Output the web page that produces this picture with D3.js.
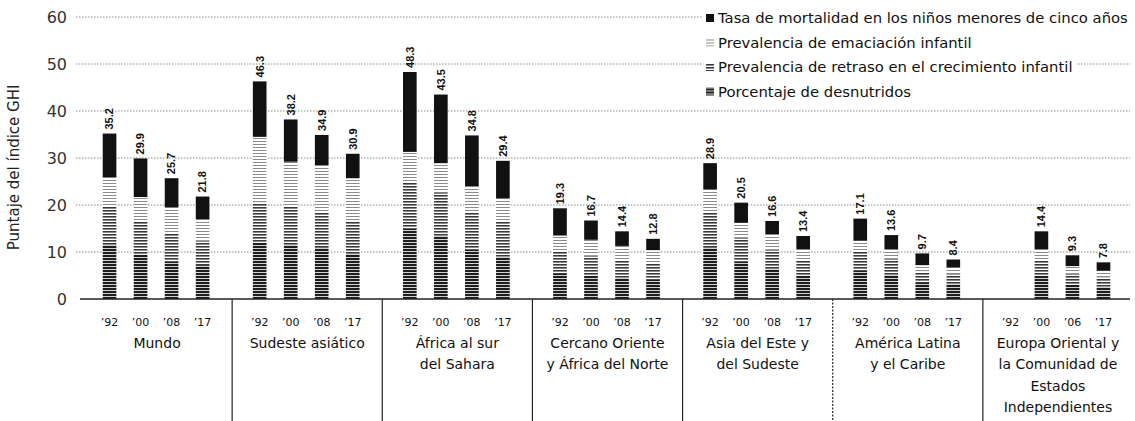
<!DOCTYPE html>
<html>
<head>
<meta charset="utf-8">
<script src="https://cdn.jsdelivr.net/npm/d3@7"></script>
<style>
  html, body { margin: 0; padding: 0; background: #fff; }
  svg { display: block; font-family: "DejaVu Sans", "Liberation Sans", sans-serif; }
</style>
</head>
<body>
<svg id="chart"></svg>
<script>
// regions (group labels split in lines) and survey years
const regions = [
    ['Mundo'],
    ['Sudeste asiático'],
    ['África al sur', 'del Sahara'],
    ['Cercano Oriente', 'y África del Norte'],
    ['Asia del Este y', 'del Sudeste'],
    ['América Latina', 'y el Caribe'],
    ['Europa Oriental y', 'la Comunidad de', 'Estados', 'Independientes']
];
const years = ['\u201992', '\u201900', '\u201908', '\u201917'];
const yearsEuropa = ['\u201992', '\u201900', '\u201906', '\u201917'];

// GHI totals per region and year (null = no value)
const totals = [
    [35.2, 29.9, 25.7, 21.8],
    [46.3, 38.2, 34.9, 30.9],
    [48.3, 43.5, 34.8, 29.4],
    [19.3, 16.7, 14.4, 12.8],
    [28.9, 20.5, 16.6, 13.4],
    [17.1, 13.6, 9.7, 8.4],
    [null, 14.4, 9.3, 7.8]
];

// components (contribution to the score), bottom to top of each stack
const desnutridos = [
    [11.6, 9.5, 8.0, 7.2],
    [12.0, 11.5, 11.0, 9.7],
    [15.0, 13.5, 10.5, 9.0],
    [5.5, 5.0, 4.5, 4.2],
    [11.0, 8.0, 6.5, 5.0],
    [6.0, 5.2, 3.4, 3.2],
    [0, 5.0, 3.0, 2.6]
];
const retraso = [
    [8.0, 7.0, 6.0, 5.2],
    [8.5, 8.2, 7.5, 6.8],
    [9.8, 9.2, 8.0, 7.4],
    [4.5, 4.2, 3.8, 3.4],
    [7.3, 5.0, 4.0, 3.3],
    [4.0, 3.4, 2.4, 2.1],
    [0, 3.2, 2.4, 2.0]
];
const emaciacion = [
    [6.3, 5.2, 5.5, 4.6],
    [14.0, 9.5, 10.0, 9.2],
    [6.5, 6.2, 5.5, 5.0],
    [3.5, 3.4, 3.0, 2.8],
    [5.0, 3.2, 3.3, 2.3],
    [2.4, 2.0, 1.4, 1.4],
    [0, 2.4, 1.6, 1.4]
];
const mortalidad = [
    [9.3, 8.2, 6.2, 4.8],
    [11.8, 9.0, 6.4, 5.2],
    [17.0, 14.6, 10.8, 8.0],
    [5.8, 4.1, 3.1, 2.4],
    [5.6, 4.3, 2.8, 2.8],
    [4.7, 3.0, 2.5, 1.7],
    [0, 3.8, 2.3, 1.8]
];

const seriesNames = [
    'Tasa de mortalidad en los niños menores de cinco años',
    'Prevalencia de emaciación infantil',
    'Prevalencia de retraso en el crecimiento infantil',
    'Porcentaje de desnutridos'
];
const yTicks = [0, 10, 20, 30, 40, 50, 60];

const width = 1135, height = 421;
const svg = d3.select('#chart').attr('width', width).attr('height', height);

// patterns to imitate the grey hatching
const defs = svg.append('defs');
function stripes(id, lineW, color, gap) {
    const p = defs.append('pattern').attr('id', id)
        .attr('patternUnits', 'userSpaceOnUse').attr('width', 4).attr('height', gap);
    p.append('rect').attr('width', 4).attr('height', gap).attr('fill', '#fff');
    p.append('rect').attr('width', 4).attr('height', lineW).attr('fill', color);
}
stripes('p-ema', 1, '#8a8a8a', 3);
stripes('p-ret', 1.6, '#3a3a3a', 3);
stripes('p-des', 2.2, '#1e1e1e', 3);

const fills = ['#111', 'url(#p-ema)', 'url(#p-ret)', 'url(#p-des)'];

const y = d3.scaleLinear().domain([0, 60]).range([299, 17]);
const x0 = d3.scaleBand().domain(d3.range(regions.length)).range([82, 1133]);
const x1 = d3.scaleBand().domain(d3.range(4)).range([-1, x0.bandwidth() - 1])
    .paddingInner(0.56).paddingOuter(0.7);

// y axis title
svg.append('text')
    .attr('transform', `translate(19, ${y(28)}) rotate(-90)`)
    .attr('text-anchor', 'middle')
    .attr('font-size', 15).attr('fill', '#222')
    .text('Puntaje del índice GHI');

// gridlines + tick labels
svg.append('g').selectAll('line').data(yTicks.filter(d => d > 0)).join('line')
    .attr('x1', 76).attr('x2', 1130)
    .attr('y1', d => y(d)).attr('y2', d => y(d))
    .attr('stroke', '#8a8a8a').attr('stroke-width', 1)
    .attr('stroke-dasharray', '1.5,1.5');

svg.append('g').selectAll('text').data(yTicks).join('text')
    .attr('x', 67).attr('y', d => y(d))
    .attr('dy', '0.36em').attr('text-anchor', 'end')
    .attr('font-size', 16).attr('fill', '#333')
    .text(d => d);

// legend (white boxes hide the gridlines behind the text)
const legend = svg.append('g');
seriesNames.forEach((name, i) => {
    const row = legend.append('g').attr('transform', `translate(706, ${18 + i * 24.5})`);
    const t = row.append('text').attr('x', 12).attr('dy', '0.36em')
        .attr('font-size', 14.8).attr('fill', '#111').text(name);
    const w = t.node().getComputedTextLength();
    row.insert('rect', 'text').attr('x', -4).attr('y', -10).attr('width', w + 20).attr('height', 20)
        .attr('fill', '#fff');
    row.append('rect').attr('x', 0).attr('y', -4).attr('width', 8).attr('height', 8)
        .attr('fill', fills[i]);
});

// stacked bars
const layers = [desnutridos, retraso, emaciacion, mortalidad];
const layerFill = [fills[3], fills[2], fills[1], fills[0]];

regions.forEach((reg, r) => {
    const g = svg.append('g').attr('transform', `translate(${x0(r)},0)`);
    d3.range(4).forEach(k => {
        if (totals[r][k] == null) return;
        let base = 0;
        layers.forEach((layer, li) => {
            const v = layer[r][k];
            g.append('rect')
                .attr('x', x1(k)).attr('width', x1.bandwidth())
                .attr('y', y(base + v)).attr('height', y(base) - y(base + v))
                .attr('fill', layerFill[li]);
            base += v;
        });
        // value label, rotated
        g.append('text')
            .attr('transform', `translate(${x1(k) + x1.bandwidth() / 2}, ${y(totals[r][k]) - 4}) rotate(-90)`)
            .attr('dy', '0.35em')
            .attr('font-family', 'Liberation Sans, sans-serif')
            .attr('font-size', 11).attr('font-weight', 'bold').attr('fill', '#111')
            .text(totals[r][k].toFixed(1));
    });
    // year labels
    const yl = r === 6 ? yearsEuropa : years;
    g.selectAll('text.yr').data(yl).join('text').attr('class', 'yr')
        .attr('x', (d, k) => x1(k) + x1.bandwidth() / 2)
        .attr('y', 322).attr('dy', '0.35em').attr('text-anchor', 'middle')
        .attr('font-size', 11).attr('fill', '#111')
        .text(d => d);
    // region name
    g.selectAll('text.rg').data(reg).join('text').attr('class', 'rg')
        .attr('x', x0.bandwidth() / 2)
        .attr('y', (d, i) => 343 + i * 21.5).attr('dy', '0.35em').attr('text-anchor', 'middle')
        .attr('font-size', 14).attr('fill', '#111')
        .text(d => d);
});

// baseline
svg.append('line').attr('x1', 80).attr('x2', 1130).attr('y1', y(0)).attr('y2', y(0))
    .attr('stroke', '#222').attr('stroke-width', 1.5);

// group separators
svg.append('g').selectAll('line').data(d3.range(1, regions.length)).join('line')
    .attr('x1', d => x0(d)).attr('x2', d => x0(d))
    .attr('y1', y(0)).attr('y2', height)
    .attr('stroke', '#222').attr('stroke-width', 1.2)
    .attr('stroke-dasharray', d => d === 5 ? '2,1.5' : null);
</script>
</body>
</html>
